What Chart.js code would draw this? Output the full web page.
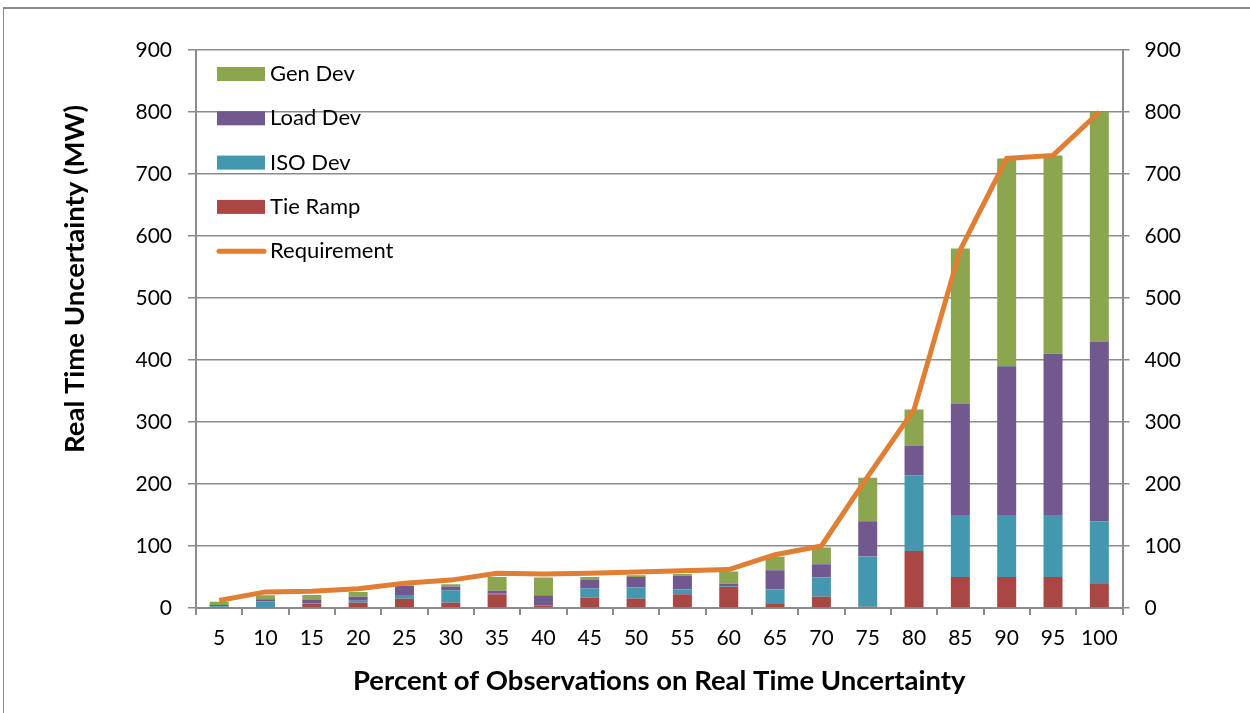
<!DOCTYPE html>
<html>
<head>
<meta charset="utf-8">
<script src="https://cdn.jsdelivr.net/npm/chart.js@4.4.1/dist/chart.umd.min.js"></script>
<style>
  body { margin: 0; background: #fff; }
  #wrap { position: relative; width: 1250px; height: 713px; overflow: hidden; }
  #frame { position: absolute; left: 3px; top: 7px; width: 1300px; height: 800px;
           border-left: 1px solid #8a8a8a; border-top: 2px solid #8a8a8a; }
  canvas { position: absolute; left: 0; top: 0; }
</style>
</head>
<body>
<div id="wrap">
  <div id="frame"></div>
  <canvas id="chart" width="1250" height="713"></canvas>
</div>
<script>
// --- datos ---
const categories = ['5','10','15','20','25','30','35','40','45','50','55','60','65','70','75','80','85','90','95','100'];
const tieRamp  = [1, 1.5, 7, 8.5, 15, 8.5, 22, 4, 17, 15.5, 22, 34, 7.5, 18, 2, 92, 50, 50, 50, 40];
const isoDev   = [2, 9.5, 1, 3, 6, 20, 1, 0, 15, 17.5, 8, 1, 22.5, 31, 81, 122, 100, 100, 100, 100];
const loadDev  = [2, 3, 5, 6.5, 14.5, 6, 5, 16.5, 14, 17, 22, 4, 31, 21.5, 57, 48, 180, 240, 260, 290];
const genDev   = [5, 6.5, 8, 8, 1, 4, 22, 28.5, 4, 3, 3, 20, 21.5, 27, 70, 58, 250, 335, 320, 370];
const requirement = [12, 26, 27, 31, 40, 45, 56, 55, 56, 58, 60, 62, 86, 100, 212, 320, 578, 725, 730, 800];
const yTicks = [0, 100, 200, 300, 400, 500, 600, 700, 800, 900];

const FONT = 'Lato, "Open Sans", sans-serif';
const GRID = '#8c8c8c';

const colors = {
  gen: '#8BA64F',
  load: '#71588F',
  iso: '#4397AF',
  tie: '#A84744',
  req: '#E07E33'
};

// leyenda dentro del área del gráfico + título del eje Y
const customDraw = {
  id: 'customDraw',
  afterDraw(chart) {
    const ctx = chart.ctx;
    const left = chart.chartArea.left + 21;
    const items = [
      { label: 'Gen Dev', color: colors.gen },
      { label: 'Load Dev', color: colors.load },
      { label: 'ISO Dev', color: colors.iso },
      { label: 'Tie Ramp', color: colors.tie },
      { label: 'Requirement', color: colors.req, line: true }
    ];
    ctx.save();
    ctx.font = '22px ' + FONT;
    ctx.textBaseline = 'middle';
    ctx.textAlign = 'left';
    items.forEach((it, i) => {
      const y = 74 + i * 44.3;
      if (it.line) {
        ctx.strokeStyle = it.color;
        ctx.lineWidth = 5;
        ctx.lineCap = 'round';
        ctx.beginPath();
        ctx.moveTo(left + 2, y);
        ctx.lineTo(left + 47, y);
        ctx.stroke();
      } else {
        ctx.fillStyle = it.color;
        ctx.fillRect(left, y - 7, 48, 14);
      }
      ctx.fillStyle = '#000';
      ctx.fillText(it.label, left + 53, y);
    });

    ctx.translate(75.5, 279);
    ctx.rotate(-Math.PI / 2);
    ctx.font = 'bold 27.5px ' + FONT;
    ctx.textAlign = 'center';
    ctx.fillText('Real Time Uncertainty (MW)', 0, 0);
    ctx.restore();
  }
};

const barSet = (label, data, color) => ({
  type: 'bar',
  label: label,
  data: data,
  backgroundColor: color,
  borderWidth: 0,
  stack: 's',
  yAxisID: 'y',
  categoryPercentage: 1,
  barPercentage: 0.41,
  order: 2
});

new Chart(document.getElementById('chart').getContext('2d'), {
  data: {
    labels: categories,
    datasets: [
      {
        type: 'line',
        label: 'Requirement',
        data: requirement,
        borderColor: colors.req,
        borderWidth: 5,
        pointRadius: 0,
        tension: 0,
        fill: false,
        yAxisID: 'y',
        order: 1
      },
      barSet('Tie Ramp', tieRamp, colors.tie),
      barSet('ISO Dev', isoDev, colors.iso),
      barSet('Load Dev', loadDev, colors.load),
      barSet('Gen Dev', genDev, colors.gen)
    ]
  },
  options: {
    responsive: false,
    animation: false,
    layout: { padding: { top: 50, left: 0, right: 0, bottom: 0 } },
    plugins: {
      legend: { display: false },
      tooltip: { enabled: false }
    },
    scales: {
      x: {
        stacked: true,
        offset: true,
        grid: { offset: true, drawOnChartArea: false, drawTicks: true, tickLength: 7, color: GRID, lineWidth: 2 },
        border: { color: GRID, width: 2 },
        ticks: { color: '#000', font: { family: FONT, size: 21 }, padding: 11, maxRotation: 0 },
        title: {
          display: true,
          text: 'Percent of Observations on Real Time Uncertainty',
          color: '#000',
          font: { family: FONT, size: 27.5, weight: 'bold' },
          padding: { top: 4, bottom: 15 }
        },
        afterFit: (s) => { s.height = 105; }
      },
      y: {
        stacked: true,
        min: 0,
        max: 900,
        position: 'left',
        afterBuildTicks: (s) => { s.ticks = yTicks.map(v => ({ value: v })); },
        grid: { color: GRID, lineWidth: 1.5, tickLength: 8 },
        border: { color: GRID, width: 2 },
        ticks: { color: '#000', font: { family: FONT, size: 21 }, padding: 16 },
        afterFit: (s) => { s.width = 196; }
      },
      y2: {
        min: 0,
        max: 900,
        position: 'right',
        afterBuildTicks: (s) => { s.ticks = yTicks.map(v => ({ value: v })); },
        grid: { drawOnChartArea: false, color: GRID, lineWidth: 1.5, tickLength: 7 },
        border: { color: GRID, width: 2 },
        ticks: { color: '#000', font: { family: FONT, size: 21 }, padding: 15 },
        afterFit: (s) => { s.width = 127.5; }
      }
    }
  },
  plugins: [customDraw]
});
</script>
</body>
</html>
